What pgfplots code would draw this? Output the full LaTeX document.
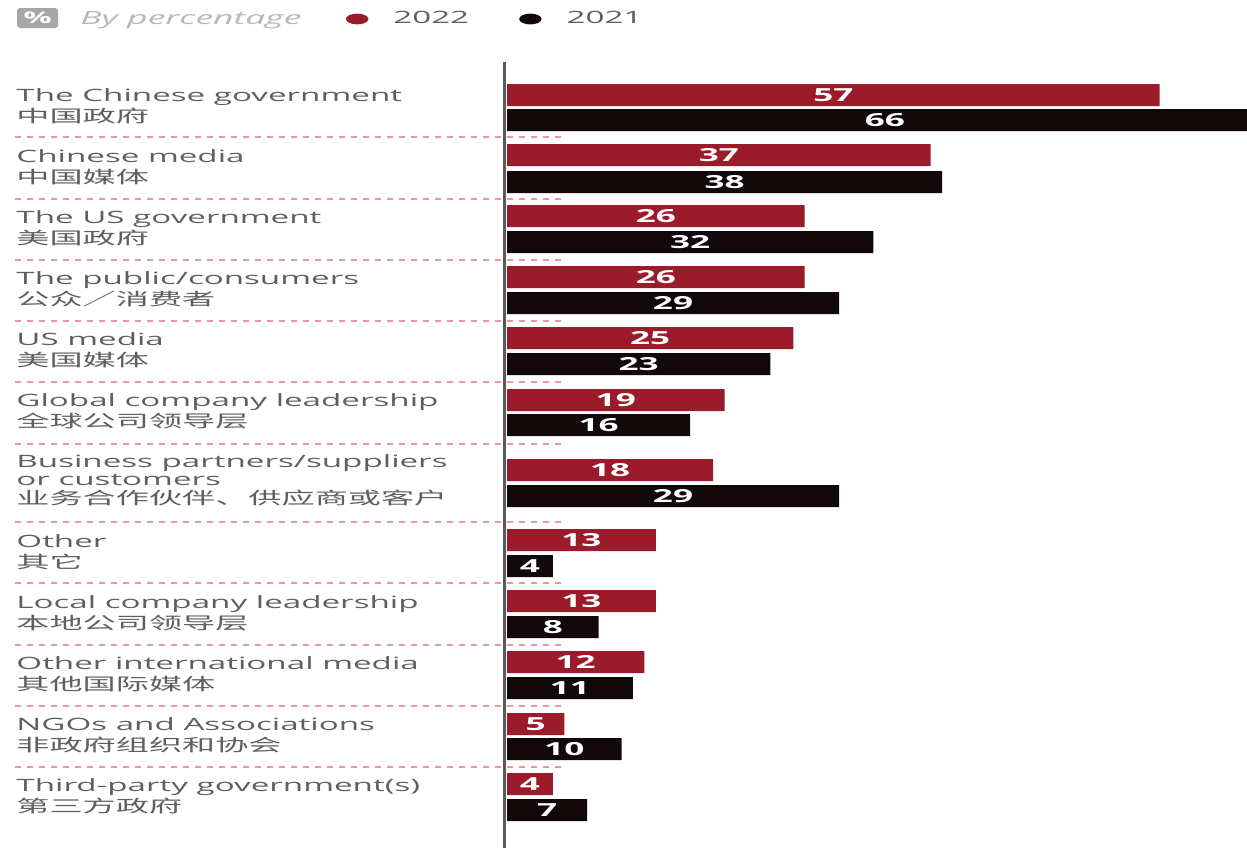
\documentclass[border=0pt]{standalone}
\usepackage{pgfplots}
\pgfplotsset{compat=1.18}
\usepackage{pgfplotstable}
\usepackage{fontspec}
\setmainfont{Open Sans}[FakeStretch=1.95]
\newfontfamily\cjk{Noto Sans CJK SC}[FakeStretch=1.95]
\definecolor{cred}{RGB}{155,27,42}
\definecolor{cblk}{RGB}{18,8,9}
\definecolor{lbl}{RGB}{95,95,95}
\definecolor{sepc}{RGB}{232,150,160}
\definecolor{axc}{RGB}{90,90,90}

\pgfplotstableread{
y v
95 57
155 37
216 26
277 26
338 25
400 19
470 18
540 13
601 13
662 12
724 5
784 4
}\reddata
\pgfplotstableread{
y v
120 66
182 38
242 32
303 29
364 23
425 16
496 29
566 4
627 8
688 11
749 10
810 7
}\blkdata

\newcommand{\lab}[2]{\node[anchor=base west, inner sep=0pt, text=lbl, font=\fontsize{8.5}{10}\selectfont] at (axis cs:-42.88,#1) {#2};}
\newcommand{\sep}[1]{\draw[sepc, line width=0.6pt, dash pattern=on 3pt off 3pt] (axis cs:-42.97,#1) -- (axis cs:5.07,#1);}

\begin{document}
\begin{tikzpicture}
\begin{axis}[
  scale only axis, width=623.5pt, height=424pt,
  xmin=-44.28, xmax=64.63, ymin=0, ymax=848, y dir=reverse,
  axis lines=none,
  /pgf/number format/assume math mode=true,
  bar width=22, bar shift=0pt,
  clip=true,
  legend columns=-1,
  legend style={at={(axis cs:-14.1,19)}, anchor=west, draw=none, fill=none, inner sep=0pt,
    font=\fontsize{8.5}{10}\selectfont, text=lbl,
    /tikz/every odd column/.append style={column sep=10.5pt},
    /tikz/every even column/.append style={column sep=23pt}},
  legend image code/.code={\fill[#1] (0pt,0pt) ellipse (5.6pt and 2.7pt);},
]
\addplot[xbar, fill=cred, draw=none] table[x=v,y=y]{\reddata};
\addlegendentry{2022}
\addplot[xbar, fill=cblk, draw=none] table[x=v,y=y]{\blkdata};
\addlegendentry{2021}
\addplot[forget plot, draw=none, mark=none, point meta=explicit,
  nodes near coords, nodes near coords style={anchor=center, text=white, inner sep=0pt, font=\bfseries\fontsize{9}{10}\selectfont}]
  table[x expr=\thisrow{v}/2, y=y, meta=v]{\reddata};
\addplot[forget plot, draw=none, mark=none, point meta=explicit,
  nodes near coords, nodes near coords style={anchor=center, text=white, inner sep=0pt, font=\bfseries\fontsize{9}{10}\selectfont}]
  table[x expr=\thisrow{v}/2, y=y, meta=v]{\blkdata};

\draw[axc, line width=1.5pt] (axis cs:-0.26,62) -- (axis cs:-0.26,848);

\sep{137}\sep{199}\sep{260}\sep{321}\sep{382}\sep{444}\sep{522}\sep{583}\sep{645}\sep{706}\sep{767}

\lab{101}{The Chinese government}
\lab{122}{\cjk 中国政府}
\lab{162}{Chinese media}
\lab{183}{\cjk 中国媒体}
\lab{223}{The US government}
\lab{244}{\cjk 美国政府}
\lab{284}{The public/consumers}
\lab{305}{\cjk 公众／消费者}
\lab{345}{US media}
\lab{366}{\cjk 美国媒体}
\lab{406}{Global company leadership}
\lab{427}{\cjk 全球公司领导层}
\lab{467}{Business partners/suppliers}
\lab{485}{or customers}
\lab{504}{\cjk 业务合作伙伴、供应商或客户}
\lab{547}{Other}
\lab{568}{\cjk 其它}
\lab{608}{Local company leadership}
\lab{629}{\cjk 本地公司领导层}
\lab{669}{Other international media}
\lab{690}{\cjk 其他国际媒体}
\lab{730}{NGOs and Associations}
\lab{751}{\cjk 非政府组织和协会}
\lab{791}{Third-party government(s)}
\lab{812}{\cjk 第三方政府}

\node[fill=black!35, rounded corners=1.5pt, text=white, inner sep=0pt, minimum width=20.5pt, minimum height=10pt, font=\bfseries\fontsize{8}{9}\selectfont] at (axis cs:-41.0,18) {\%};
\node[anchor=base west, inner sep=0pt, text=black!28, font=\itshape\fontsize{9.1}{10}\selectfont] at (axis cs:-37.29,24) {By percentage};
\end{axis}
\pgfresetboundingbox
\path (current axis.south west) rectangle (current axis.north east);
\end{tikzpicture}
\end{document}
